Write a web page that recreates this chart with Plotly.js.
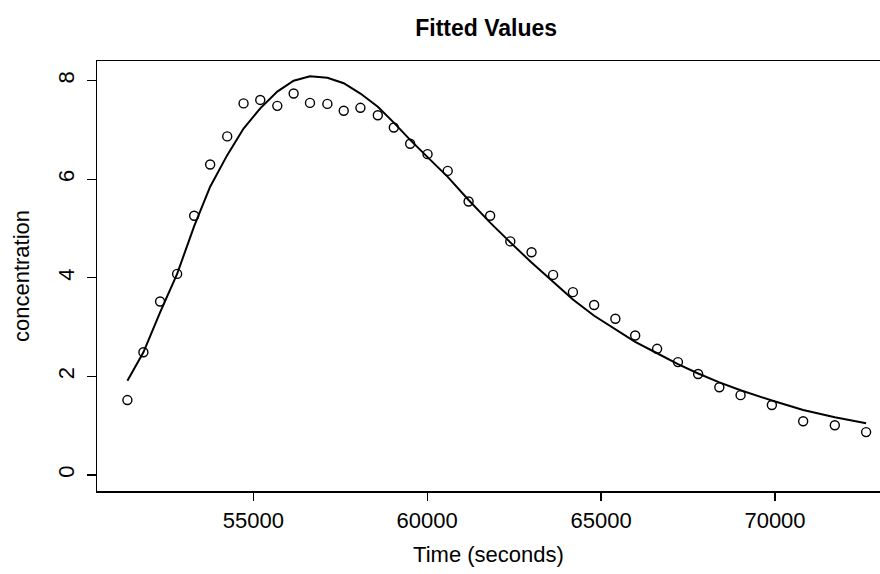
<!DOCTYPE html>
<html>
<head>
<meta charset="utf-8">
<script src="https://cdn.plot.ly/plotly-3.0.1.min.js"></script>
<style>html,body{margin:0;padding:0;background:#fff;overflow:hidden}#chart{width:880px;height:574px}</style>
</head>
<body>
<div id="chart"></div>
<script>
const timeSeconds = [51380, 51840, 52320, 52810, 53300, 53760, 54250, 54720, 55200, 55690,
  56160, 56630, 57130, 57600, 58080, 58580, 59040, 59510, 60010, 60590,
  61190, 61810, 62390, 63000, 63620, 64190, 64800, 65410, 65980, 66610,
  67210, 67790, 68400, 69010, 69910, 70810, 71720, 72620];
const observed = [1.52, 2.49, 3.52, 4.08, 5.26, 6.30, 6.87, 7.54, 7.61, 7.49,
  7.74, 7.55, 7.53, 7.39, 7.45, 7.30, 7.05, 6.72, 6.51, 6.17,
  5.55, 5.26, 4.74, 4.52, 4.06, 3.71, 3.45, 3.17, 2.83, 2.56,
  2.29, 2.05, 1.78, 1.62, 1.42, 1.09, 1.01, 0.87];
const fitted = [1.91, 2.49, 3.30, 4.08, 5.05, 5.85, 6.49, 7.03, 7.44, 7.78,
  8.00, 8.09, 8.06, 7.95, 7.74, 7.47, 7.15, 6.80, 6.45, 6.05,
  5.58, 5.12, 4.72, 4.31, 3.92, 3.56, 3.23, 2.96, 2.70, 2.47,
  2.25, 2.06, 1.88, 1.72, 1.51, 1.32, 1.17, 1.05];
const xTicks = [55000, 60000, 65000, 70000];
const yTicks = [0, 2, 4, 6, 8];

const font = 'Liberation Sans, Arial, Helvetica, sans-serif';

const traces = [
  {
    x: timeSeconds, y: observed, type: 'scatter', mode: 'markers',
    marker: {symbol: 'circle-open', size: 9, color: '#000', line: {width: 1.4, color: '#000'}},
    hoverinfo: 'x+y', showlegend: false
  },
  {
    x: timeSeconds, y: fitted, type: 'scatter', mode: 'lines',
    line: {color: '#000', width: 2}, showlegend: false
  }
];

const layout = {
  width: 880, height: 574,
  margin: {l: 97, r: 0, t: 61, b: 83},
  paper_bgcolor: '#fff', plot_bgcolor: '#fff',
  font: {family: font, color: '#000', size: 22},
  title: {text: '<b>Fitted Values</b>', x: 0.497, xref: 'paper', y: 1 - 28 / 574, yref: 'container',
          yanchor: 'middle', font: {family: font, size: 23, color: '#000'}},
  xaxis: {
    range: [50506, 73019], showgrid: false, zeroline: false,
    showline: true, mirror: true, linecolor: '#000', linewidth: 1.5,
    ticks: 'outside', ticklen: 8, tickwidth: 1.2, tickcolor: '#000',
    tickmode: 'array', tickvals: xTicks, ticktext: xTicks.map(String),
    ticklabelstandoff: 1,
    tickfont: {family: font, size: 22, color: '#000'},
    title: {text: 'Time (seconds)', font: {family: font, size: 22, color: '#000'}, standoff: 14}
  },
  yaxis: {
    range: [-0.325, 8.40], showgrid: false, zeroline: false,
    showline: true, mirror: false, linecolor: '#000', linewidth: 1.5,
    ticks: 'outside', ticklen: 9, tickwidth: 1.2, tickcolor: '#000',
    tickmode: 'array', tickvals: yTicks, ticktext: yTicks.map(String), tickangle: -90,
    ticklabelstandoff: 4,
    tickfont: {family: font, size: 22, color: '#000'},
    title: {text: 'concentration', font: {family: font, size: 22, color: '#000'}, standoff: 18}
  }
};

Plotly.newPlot('chart', traces, layout, {staticPlot: true, displayModeBar: false});
</script>
</body>
</html>
